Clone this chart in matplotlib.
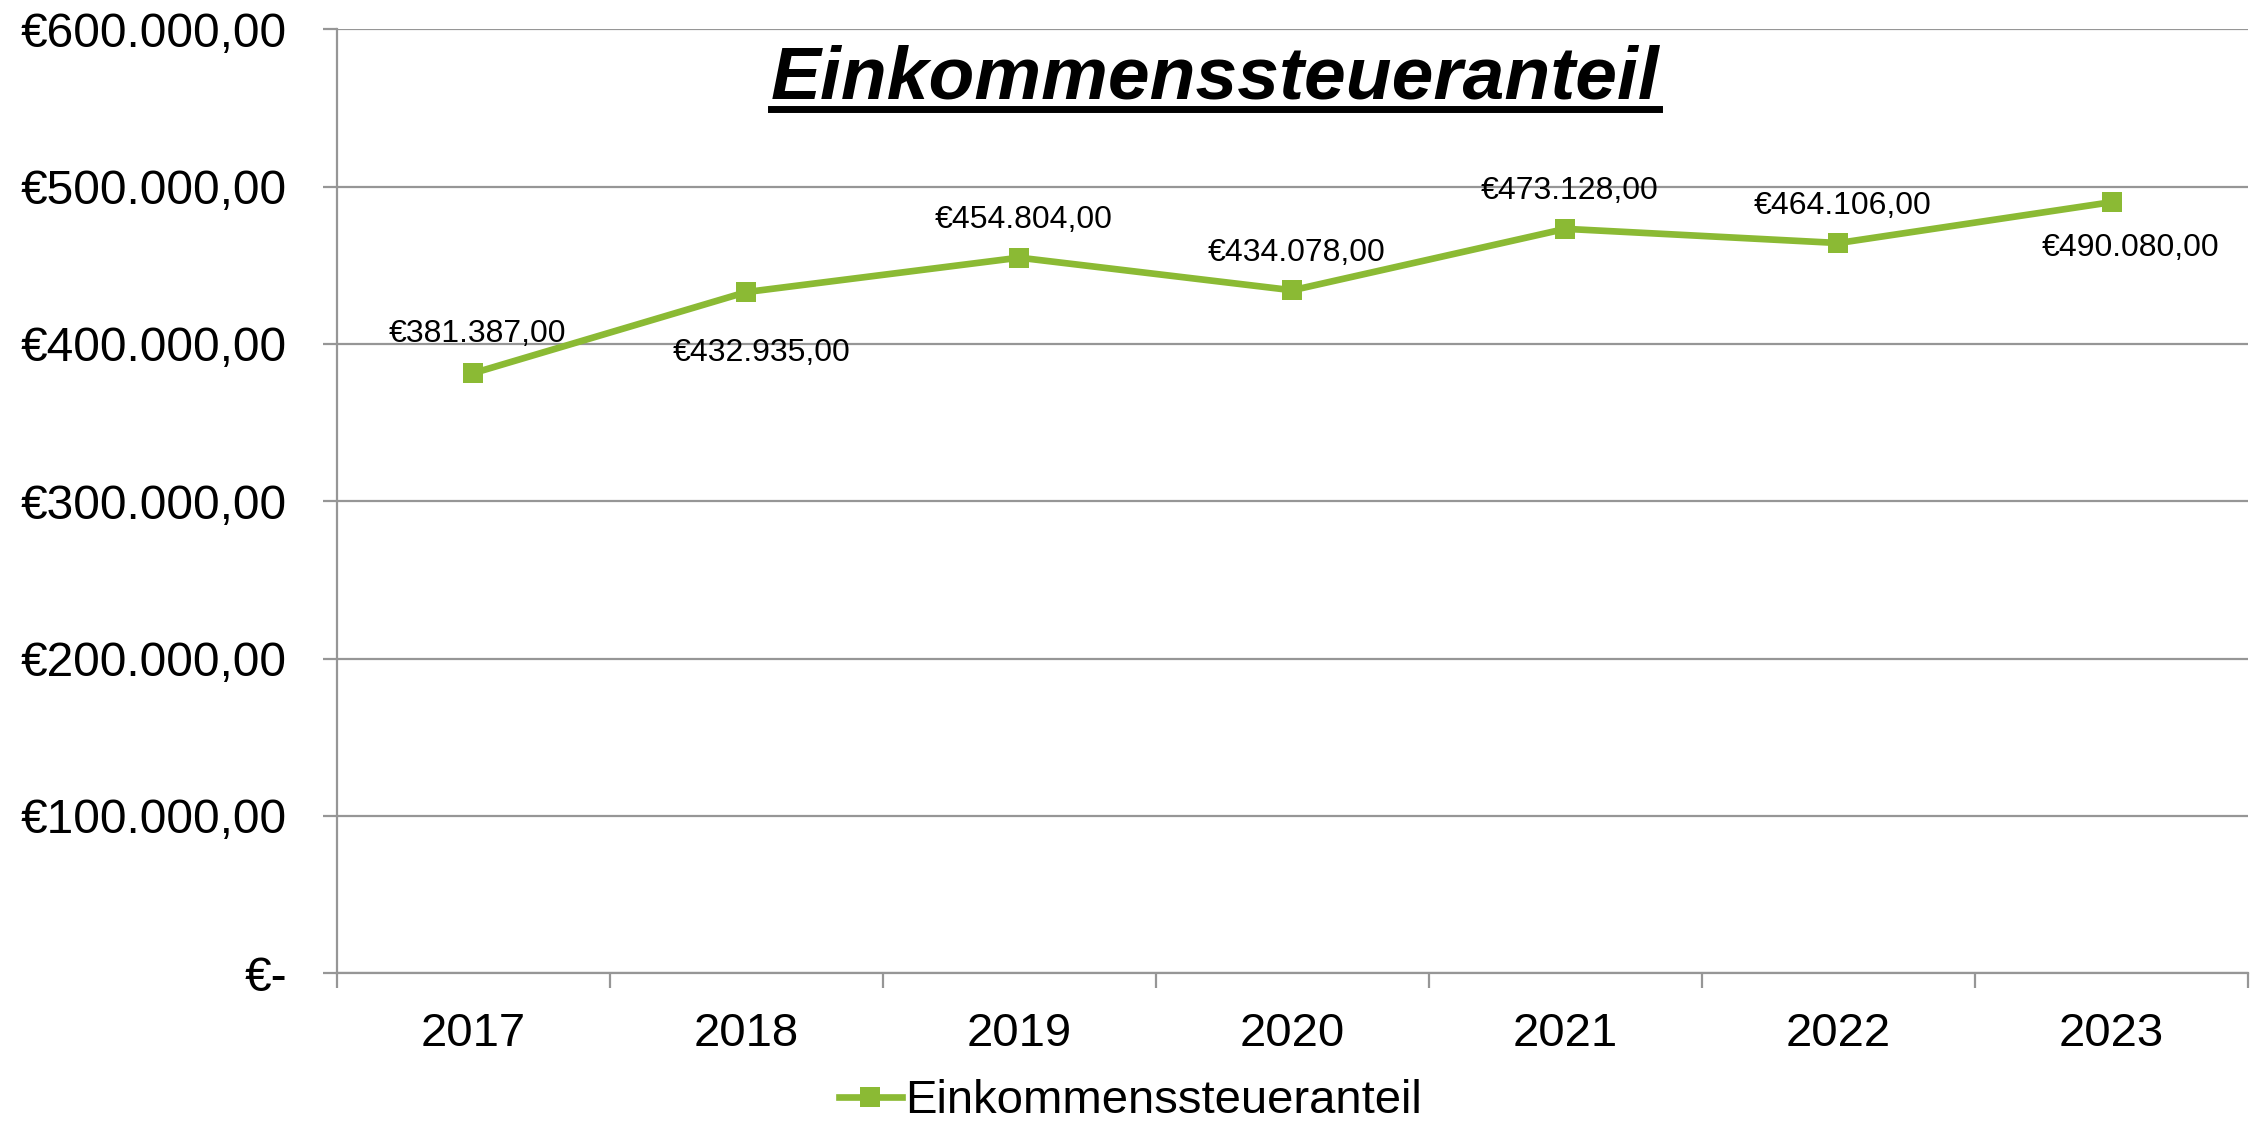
import matplotlib.pyplot as plt
from matplotlib.ticker import FuncFormatter, FixedLocator
from matplotlib.lines import Line2D

# -------------------------
# Data
# -------------------------
years = ['2017', '2018', '2019', '2020', '2021', '2022', '2023']
einkommensteuer = [381387, 432935, 454804, 434078, 473128, 464106, 490080]

series_name = 'Einkommenssteueranteil'
green = '#8BBA34'
grid_gray = '#969696'

# data label offsets in points (Excel placed some above, some below)
label_offsets = [(3, 28), (11, -44), (3, 27), (3, 27), (3, 27), (3, 27), (14, -33)]

plt.rcParams['font.family'] = ['Liberation Sans', 'DejaVu Sans']


def euro(v, pos=None):
    if v == 0:
        return '€-'
    s = f'{v:,.2f}'
    s = s.replace(',', 'X').replace('.', ',').replace('X', '.')
    return '€' + s


# -------------------------
# Figure setup
# -------------------------
fig = plt.figure(figsize=(22.6, 11.25), dpi=100)
ax = fig.add_axes([0.149, 0.135, 0.8457, 0.839])

x = list(range(len(years)))
ax.plot(x, einkommensteuer, color=green, linewidth=4.8, marker='s',
        markersize=14, markeredgewidth=0, label=series_name, zorder=3)

# data labels
for xi, v, off in zip(x, einkommensteuer, label_offsets):
    ax.annotate(euro(v), (xi, v), xytext=off, textcoords='offset points',
                ha='center', va='center', fontsize=23, color='black')

# axes
ax.set_xlim(-0.5, len(years) - 0.5)
ax.set_ylim(0, 600000)
ax.set_yticks(range(0, 600001, 100000))
ax.yaxis.set_major_formatter(FuncFormatter(euro))
ax.yaxis.grid(True, color=grid_gray, linewidth=1.6)
ax.set_axisbelow(True)

# category ticks: marks on boundaries, labels at centers
ax.xaxis.set_major_locator(FixedLocator([i - 0.5 for i in range(len(years) + 1)]))
ax.xaxis.set_minor_locator(FixedLocator(x))
ax.set_xticklabels([], minor=False)
ax.set_xticklabels(years, minor=True)
ax.tick_params(axis='x', which='major', length=11, width=1.6, color=grid_gray, direction='out')
ax.tick_params(axis='x', which='minor', length=0, pad=28, labelsize=34)
ax.tick_params(axis='y', length=10, width=1.6, color=grid_gray, direction='out',
               pad=26, labelsize=34.5)

for s in ['top', 'right']:
    ax.spines[s].set_visible(False)
for s in ['left', 'bottom']:
    ax.spines[s].set_color(grid_gray)
    ax.spines[s].set_linewidth(1.6)

# title (bold italic, underlined)
title = fig.text(0.5376, 0.93, series_name, ha='center', va='center',
                 fontsize=54, fontweight='bold', fontstyle='italic')
fig.canvas.draw()
bb = title.get_window_extent().transformed(fig.transFigure.inverted())
fig.add_artist(Line2D([bb.x0, bb.x1], [0.903, 0.903], color='black',
                      linewidth=5, transform=fig.transFigure))

# legend
fig.legend(loc='center', bbox_to_anchor=(0.5, 0.021), frameon=False,
           fontsize=34, handlelength=1.35, handletextpad=0.05)

plt.savefig('out.png', dpi=100)
